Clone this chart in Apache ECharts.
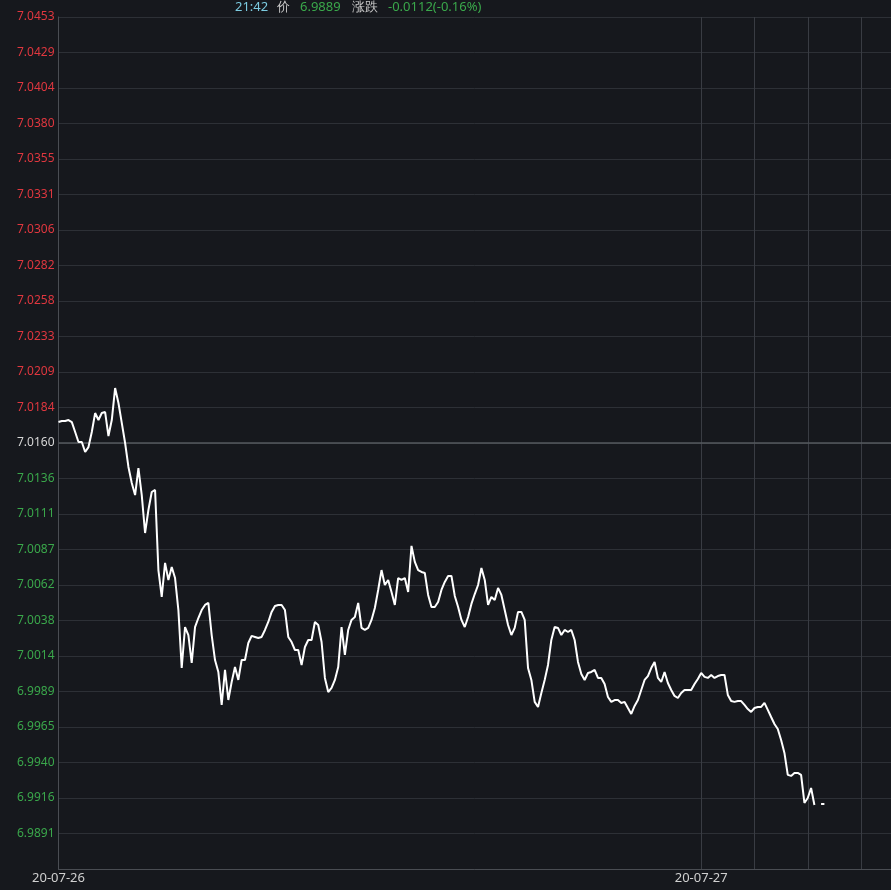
<!DOCTYPE html>
<html>
<head>
<meta charset="utf-8">
<script src="https://cdn.jsdelivr.net/npm/echarts@6/dist/echarts.min.js"></script>
<style>
html,body{margin:0;padding:0;background:#16181d;}
#c{width:891px;height:890px;}
</style>
</head>
<body>
<div id="c"></div>
<script>
// ---- data ----
var prices = [
7.01744,7.01751,7.01751,7.01758,7.01744,7.01676,7.01607,7.01607,7.01538,7.01572,
7.01676,7.01806,7.01758,7.01806,7.01813,7.01648,7.01758,7.01978,7.01875,7.01738,
7.01600,7.01435,7.01325,7.01242,7.01428,7.01242,7.00981,7.01139,7.01263,7.01277,
7.00726,7.00541,7.00775,7.00658,7.00747,7.00671,7.00451,7.00052,7.00334,7.00279,
7.00087,7.00334,7.00396,7.00451,7.00486,7.00500,7.00279,7.00107,7.00025,6.99798,
7.00039,6.99832,6.99956,7.00059,6.99970,7.00107,7.00107,7.00224,7.00273,7.00266,
7.00259,7.00266,7.00314,7.00369,7.00438,7.00479,7.00486,7.00486,7.00451,7.00266,
7.00231,7.00176,7.00176,7.00073,7.00197,7.00245,7.00245,7.00369,7.00348,7.00231,
6.99984,6.99887,6.99915,6.99970,7.00059,7.00334,7.00142,7.00314,7.00383,7.00403,
7.00500,7.00328,7.00314,7.00328,7.00383,7.00465,7.00589,7.00726,7.00623,7.00658,
7.00575,7.00486,7.00671,7.00658,7.00671,7.00575,7.00892,7.00782,7.00726,7.00713,
7.00706,7.00555,7.00472,7.00472,7.00506,7.00589,7.00644,7.00685,7.00685,7.00548,
7.00472,7.00383,7.00334,7.00403,7.00493,7.00561,7.00623,7.00740,7.00658,7.00486,
7.00541,7.00520,7.00603,7.00555,7.00451,7.00348,7.00279,7.00328,7.00438,7.00438,
7.00383,7.00052,6.99970,6.99819,6.99784,6.99880,6.99970,7.00073,7.00245,7.00334,
7.00328,7.00279,7.00314,7.00300,7.00314,7.00245,7.00094,7.00011,6.99970,7.00018,
7.00025,7.00039,6.99984,6.99984,6.99942,6.99853,6.99819,6.99832,6.99832,6.99812,
6.99819,6.99777,6.99736,6.99791,6.99832,6.99901,6.99970,6.99997,7.00052,7.00094,
6.99984,6.99956,7.00025,6.99949,6.99901,6.99860,6.99846,6.99880,6.99901,6.99901,
6.99901,6.99942,6.99977,7.00018,6.99991,6.99984,7.00004,6.99984,6.99997,7.00004,
7.00004,6.99867,6.99825,6.99819,6.99825,6.99825,6.99798,6.99770,6.99750,6.99777,
6.99784,6.99784,6.99812,6.99764,6.99715,6.99667,6.99633,6.99557,6.99468,6.99317,
6.99310,6.99330,6.99330,6.99317,6.99124,6.99158,6.99227,6.99110,null,6.99117,
6.99117
];
var slotCount = 251;
var xLabels = {0: '20-07-26', 193: '20-07-27'};
var xGridIdx = [193, 209, 225, 241];
var basePrice = 7.0160;
var yTickLabels = ['', '6.9891', '6.9916', '6.9940', '6.9965', '6.9989', '7.0014', '7.0038',
  '7.0062', '7.0087', '7.0111', '7.0136', '7.0160', '7.0184', '7.0209', '7.0233', '7.0258',
  '7.0282', '7.0306', '7.0331', '7.0355', '7.0380', '7.0404', '7.0429', '7.0453'];
var header = {time: '21:42', priceLbl: '价', price: '6.9889', chgLbl: '涨跌', chg: '-0.0112(-0.16%)'};

// ---- build ----
var IV = basePrice / 2873;
var YMIN = IV * 2861, YMAX = IV * 2885;
var cats = [];
for (var i = 0; i < slotCount; i++) cats.push(String(i));
var RED = '#e0373f', GREEN = '#3aa74b', WHITE = '#d6d6d6';
function tickIdx(v) { return Math.round((v - YMIN) / IV); }

var chart = echarts.init(document.getElementById('c'), null, {renderer: 'canvas'});
var FONT = "'Noto Sans', 'Liberation Sans', sans-serif";
chart.setOption({
  backgroundColor: '#16181d',
  animation: false,
  grid: {left: 58.5, right: 0, top: 17, bottom: 21, containLabel: false},
  xAxis: {
    type: 'category', boundaryGap: false, data: cats,
    axisLine: {show: true, lineStyle: {color: '#4a4d53', width: 1}},
    axisTick: {show: false},
    axisLabel: {
      interval: function (idx) { return xLabels[idx] !== undefined; },
      formatter: function (v, idx) { return xLabels[idx] || ''; },
      color: '#d0d0d0', fontSize: 13, margin: 3, fontFamily: FONT
    },
    splitLine: {
      show: true,
      interval: function (idx) { return xGridIdx.indexOf(idx) >= 0; },
      lineStyle: {color: '#393c43', width: 1}
    }
  },
  yAxis: {
    type: 'value', min: YMIN, max: YMAX, interval: IV,
    axisLine: {show: true, lineStyle: {color: '#4a4d53', width: 1}},
    axisTick: {show: false},
    axisLabel: {
      margin: 4, fontSize: 12, fontFamily: FONT,
      formatter: function (v) { return yTickLabels[tickIdx(v)] || ''; },
      color: function (v) { var k = tickIdx(v); return k > 12 ? RED : (k < 12 ? GREEN : WHITE); }
    },
    splitLine: {show: true, lineStyle: {color: '#2d3036', width: 1}}
  },
  graphic: [
    {type: 'text', left: 235, top: 1, style: {text: header.time, fill: '#7ccbe0', font: '13px ' + FONT}},
    {type: 'text', left: 277, top: 1, style: {text: header.priceLbl, fill: '#c8c8c8', font: '13px ' + FONT}},
    {type: 'text', left: 300, top: 1, style: {text: header.price, fill: GREEN, font: '13px ' + FONT}},
    {type: 'text', left: 352, top: 1, style: {text: header.chgLbl, fill: '#c8c8c8', font: '13px ' + FONT}},
    {type: 'text', left: 388, top: 1, style: {text: header.chg, fill: GREEN, font: '13px ' + FONT}}
  ],
  series: [{
    type: 'line', data: [[cats[0], basePrice], [cats[slotCount - 1], basePrice]],
    showSymbol: false, silent: true, z: 1,
    lineStyle: {color: '#55585e', width: 1.5}
  }, {
    type: 'line', data: prices, showSymbol: false, connectNulls: false,
    lineStyle: {color: '#ffffff', width: 2},
    itemStyle: {color: '#ffffff'},
    silent: true, z: 3
  }]
});
</script>
</body>
</html>
